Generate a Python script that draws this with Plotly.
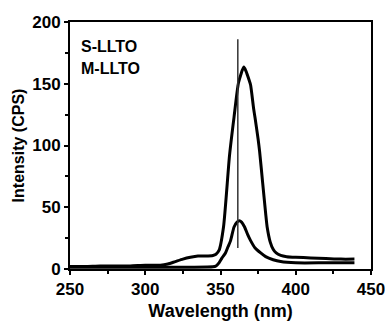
import plotly.graph_objects as go

# S-LLTO (tall curve)
s_wl = [250, 260, 270, 280, 290, 300, 310, 315, 320, 325, 330, 335, 340, 345, 347,
        349, 352, 356, 359, 362, 365.5, 367, 369, 370, 372, 373, 375, 376, 378, 380,
        381, 383, 385, 387, 390, 394, 400, 410, 420, 430, 439]
s_int = [2, 2, 2.5, 2.5, 2.5, 3, 3, 4, 6, 8, 9.5, 10.5, 10.5, 11, 12,
         15, 34, 92, 123, 151, 163.5, 160, 153, 149, 130, 122, 105, 95, 70, 45,
         34, 22, 16, 13, 11, 10, 9.5, 9, 8.5, 8, 8]

# M-LLTO (small curve)
m_wl = [250, 270, 290, 310, 330, 345, 347, 349, 351, 353.3, 355, 356.7, 359, 361,
        362.5, 364, 366, 368, 370, 373, 376.7, 380, 385, 390, 400, 420, 439]
m_int = [1.5, 1.5, 1.5, 1.5, 1.5, 1.8, 2.5, 5, 9, 13, 18, 23, 34, 38,
         39, 38, 34, 28, 23, 17, 13, 10, 7.5, 6, 5, 5, 5]

# reference marker line
ref_wl = [361.5, 361.5]
ref_int = [17, 186]

labels = ["S-LLTO", "M-LLTO"]

fig = go.Figure()
fig.add_trace(go.Scatter(x=s_wl, y=s_int, mode="lines", name=labels[0],
                         line=dict(color="black", width=3, shape="spline", smoothing=0.6)))
fig.add_trace(go.Scatter(x=m_wl, y=m_int, mode="lines", name=labels[1],
                         line=dict(color="black", width=3, shape="spline", smoothing=0.6)))
fig.add_trace(go.Scatter(x=ref_wl, y=ref_int, mode="lines",
                         line=dict(color="#333", width=1.5)))

font_family = "Liberation Sans, Arial, sans-serif"
fig.update_layout(
    width=385, height=322,
    margin=dict(l=70, r=14, t=22, b=53),
    paper_bgcolor="white", plot_bgcolor="white",
    showlegend=False,
    font=dict(family=font_family, color="black"),
    xaxis=dict(range=[250, 450], tickvals=[250, 300, 350, 400, 450], automargin=False,
               ticklabeloverflow="allow",
               ticks="outside", ticklen=4, tickwidth=1.5, tickcolor="black",
               showline=True, mirror=True, linecolor="black", linewidth=2,
               showgrid=False, zeroline=False,
               minor=dict(tickvals=[275, 325, 375, 425], ticks="outside", ticklen=3, tickcolor="black"),
               tickfont=dict(size=17, family=font_family, weight="bold"),
               title=dict(text="<b>Wavelength (nm)</b>", font=dict(size=18), standoff=6)),
    yaxis=dict(range=[0, 200], tickvals=[0, 50, 100, 150, 200], automargin=False,
               ticklabeloverflow="allow",
               ticks="outside", ticklen=4, tickwidth=1.5, tickcolor="black",
               showline=True, mirror=True, linecolor="black", linewidth=2,
               showgrid=False, zeroline=False,
               minor=dict(tickvals=[25, 75, 125, 175], ticks="outside", ticklen=3, tickcolor="black"),
               tickfont=dict(size=17, family=font_family, weight="bold"),
               title=dict(text="<b>Intensity (CPS)</b>", font=dict(size=16), standoff=4)),
)
fig.add_annotation(x=0.03, y=0.90, xref="paper", yref="paper", xanchor="left", yanchor="middle",
                   text="<b>" + labels[0] + "</b>", showarrow=False, font=dict(size=16))
fig.add_annotation(x=0.03, y=0.81, xref="paper", yref="paper", xanchor="left", yanchor="middle",
                   text="<b>" + labels[1] + "</b>", showarrow=False, font=dict(size=16))

fig.write_html("out.html")
